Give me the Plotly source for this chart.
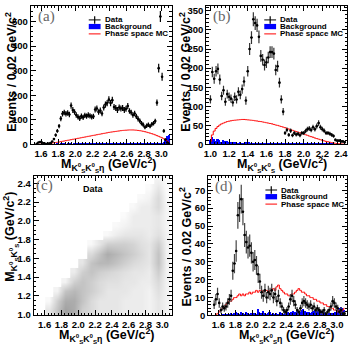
import numpy as np
import plotly.graph_objects as go

FONT = "Liberation Sans"
W, H = 354, 346
BW = 0.02  # bin width (GeV/c^2)
N = None  # outside the kinematic boundary (no events)

# ---------------- Panel (a): M(KsKs eta), bins of 0.02 starting at 1.55 ----------------
a_start = 1.55
a_data = [3, 8, 10, 8, 5, 3, 2, 4, 6, 12,
          22, 38, 55, 75, 105, 125, 130, 125, 128, 122,
          158, 140, 132, 120, 112, 106, 115, 110, 118, 115,
          120, 116, 112, 114, 142, 146, 132, 138, 126, 150,
          162, 168, 182, 168, 180, 152, 148, 140, 150, 146,
          148, 140, 145, 156, 136, 130, 120, 126, 114, 104,
          96, 86, 80, 70, 76, 80, 74, 82, 86, 95,
          170, 310, 520, 275, 55, 20, 8, 3]
a_bkg = [0, 0.5, 1, 0.5, 1, 0.5, 1, 1.5, 1, 2,
         1.5, 2, 2.5, 2, 3, 2.5, 3, 2, 3, 2.5,
         3, 2, 3, 3.5, 3, 2.5, 3, 3.5, 3, 4,
         3, 3.5, 4, 3, 4.5, 4, 5, 4, 5, 4.5,
         5, 6, 5, 5.5, 6, 5, 6, 7, 6, 5.5,
         6, 5, 6, 5.5, 5, 6, 5, 4.5, 5, 4,
         5, 4.5, 4, 5, 4, 4.5, 5, 5.5, 6, 6,
         6, 6, 7, 8, 12, 22, 35, 40]
a_mc = [0, 0.5, 1, 1.5, 2, 2.5, 3, 4, 5, 6,
        7, 8, 9, 10, 11.5, 13, 14, 15.5, 17, 18,
        19.5, 21, 22, 23.5, 25, 26, 27.5, 29, 30, 31.5,
        33, 34, 35.5, 37, 38, 39.5, 41, 42, 43.5, 45,
        46, 47.5, 49, 50, 51, 52, 53, 54, 55, 56,
        57, 57.5, 58, 58.5, 59, 59, 59, 58.5, 58, 57,
        56, 55, 53.5, 52, 50, 48, 46, 44, 41.5, 39,
        36, 33, 30, 27, 23, 18, 14, 9]

# ---------------- Panel (b): M(KsKs), bins of 0.02 starting at 1.00 ----------------
b_start = 1.00
b_data = [118, 190, 172, 192, 198, 170, 127, 142, 112, 132,
          125, 120, 110, 125, 118, 138, 130, 145, 165, 115,
          192, 250, 280, 328, 318, 312, 282, 232, 222, 208,
          215, 228, 242, 242, 238, 195, 205, 162, 118, 86,
          30, 38, 25, 36, 24, 30, 26, 28, 24, 30,
          30, 35, 40, 42, 38, 45, 40, 48, 56, 45,
          40, 36, 30, 30, 28, 25, 22, 12, 10, 10,
          8, 8, 6]
b_bkg = [12, 20, 14, 10, 15, 12, 8, 12, 10, 9,
         8, 7, 6, 8, 6, 5, 6, 5, 4, 7,
         5, 6, 4, 5, 4, 5, 4, 4, 5, 4,
         4, 5, 4, 3, 4, 5, 4, 3, 4, 3,
         4, 3, 3, 4, 3, 3, 4, 3, 3, 3,
         4, 3, 3, 2, 3, 3, 2, 3, 3, 2,
         3, 2, 2, 3, 2, 2, 2, 1, 2, 1,
         1, 1, 0.5]
b_mc = [8, 25, 35, 42, 47, 51, 54, 56, 58, 60,
        61, 62, 63, 63.5, 64, 64.5, 65, 65.5, 65.5, 65,
        64.5, 64, 63.5, 63, 62, 61.5, 60.5, 60, 59, 58,
        57, 56, 55, 54, 52.5, 51, 50, 48.5, 47, 45.5,
        44, 42, 40.5, 39, 37, 35.5, 34, 32, 30.5, 29,
        27, 25.5, 24, 22, 20.5, 19, 17, 15.5, 14, 12.5,
        11, 9.5, 8, 7, 6, 5, 4, 3, 2.5, 2,
        1.5, 1, 0.5]

# ---------------- Panel (c): event density M(KsKs) vs M(KsKs eta) ----------------
c_x = [1.55, 1.65, 1.75, 1.85, 1.95, 2.05, 2.15, 2.25, 2.35, 2.45, 2.55, 2.65, 2.75, 2.85, 2.95, 3.05]
c_y = [1.05, 1.15, 1.25, 1.35, 1.45, 1.55, 1.65, 1.75, 1.85, 1.95, 2.05, 2.15, 2.25, 2.35, 2.45]
c_z = [
    [N, 2, 5, 8, 7, 4, 3, 2, 2, 2, 1.5, 1.5, 1.5, 1, 2, 1],
    [N, 0.5, 4, 7, 7, 5, 3, 2, 2, 2, 1.5, 1.5, 1.5, 1, 2, 1],
    [N, N, 1, 5, 6, 5, 4, 3, 2, 2, 2, 1.5, 1.5, 1, 2.5, 1],
    [N, N, N, 1, 4, 5, 4, 3, 2.5, 2.5, 2, 2, 1.5, 1.5, 3, 1],
    [N, N, N, N, 1.5, 4, 5, 4, 3.5, 3, 2.5, 2, 2, 1.5, 4, 1],
    [N, N, N, N, N, 2, 5, 6, 6, 5, 4, 3, 2.5, 2, 5, 1],
    [N, N, N, N, N, N, 3, 5, 7, 6, 5, 4, 3, 2, 5, 1],
    [N, N, N, N, N, N, 0.5, 2, 4, 4, 4, 3.5, 2.5, 2, 4, 1],
    [N, N, N, N, N, N, N, N, 0.5, 1.5, 2, 2, 2, 1.5, 2.5, 1],
    [N, N, N, N, N, N, N, N, N, 0.5, 1, 1.5, 1.5, 1.5, 2, 0.8],
    [N, N, N, N, N, N, N, N, N, N, 0.3, 1.5, 1.5, 1.5, 2, 0.8],
    [N, N, N, N, N, N, N, N, N, N, N, 0.5, 1.5, 1.5, 3, 0.8],
    [N, N, N, N, N, N, N, N, N, N, N, N, 0.5, 1, 3, 0.5],
    [N, N, N, N, N, N, N, N, N, N, N, N, N, 0.3, 2, 0.3],
    [N, N, N, N, N, N, N, N, N, N, N, N, N, N, 1, 0.3],
]

# ---------------- Panel (d): M(KsKs eta), bins of 0.02 from 1.55 ----------------
d_start = 1.55
d_data = [6, 9, 12, 7, 3, 5, 4, 5, 7, 9,
          11, 25, 29, 36, 56, 60, 65, 58, 45, 41,
          38, 39, 35, 30, 31, 28, 23, 19, 13, 11,
          14, 10, 13, 12, 14, 10, 12, 8, 11, 7,
          5, 3, 2, 3, 5, 9, 11, 8, 6, 3,
          2, 4, 7, 8, 7, 6, 5, 6, 4, 5,
          3, 4, 3, 2, 2, 3, 1, 2, 3, 5,
          8, 7, 5, 4, 2, 3, 1, 1]
d_bkg = [0, 0, 0, 0.5, 0, 0.5, 0.5, 1, 0.5, 1,
         1.5, 1, 1.5, 2, 1.5, 1, 2, 1.5, 1, 2,
         1.5, 1, 1.5, 1, 1.5, 1, 3.5, 2, 1.5, 2.5,
         1.5, 1, 1.5, 2, 1, 1.5, 1, 1.5, 1, 2,
         1.5, 1, 1.5, 2, 2, 1.5, 2, 2.5, 2, 3,
         2.5, 2, 3, 3.5, 2.5, 2, 2, 1.5, 2, 2.5,
         3, 2.5, 3, 3, 2.5, 2, 1.5, 1, 1.5, 1,
         1.5, 1, 2, 3, 4, 5, 4, 3]
d_mc = [0, 0, 1, 2, 3, 4, 5, 6, 7, 8,
        8, 9, 10, 10, 11, 12, 11, 12, 11, 12,
        12, 13, 12, 13, 13, 14, 13, 14, 14, 13,
        14, 14, 13, 14, 14, 15, 14, 16, 17, 15,
        14, 13, 12, 12, 11, 11, 12, 12, 13, 14,
        15, 14, 13, 13, 12, 11, 11, 10, 10, 9,
        9, 8, 8, 7, 7, 6, 6, 5, 5, 4,
        4, 3, 3, 2, 3, 2, 3, 4]

# ---------------- layout geometry (pixels) ----------------
frames = {  # left, right, top, bottom
    "": (29, 171, 5, 146),
    "2": (206, 348, 5, 146),
    "3": (32, 171, 178, 320),
    "4": (208, 348, 178, 320),
}

fig = go.Figure()


def centers(start, vals):
    return np.round(start + BW * np.arange(len(vals)), 3)


def hist_panel(n, start, data, bkg, mc, err_col):
    xa, ya = "x" + n, "y" + n
    fig.add_trace(go.Bar(x=centers(start, bkg), y=bkg, width=BW, marker=dict(color="#0000ff", line=dict(width=0)),
                         xaxis=xa, yaxis=ya, showlegend=False, hoverinfo="skip"))
    fig.add_trace(go.Scatter(x=centers(start, mc), y=mc, mode="lines",
                             line=dict(color="#ff0000", width=1, shape="hvh"),
                             xaxis=xa, yaxis=ya, showlegend=False, hoverinfo="skip"))
    fig.add_trace(go.Scatter(x=centers(start, data), y=data, mode="markers",
                             marker=dict(color="black", size=2.6),
                             error_y=dict(type="data", array=np.sqrt(np.array(data, float)), color=err_col,
                                          thickness=1.2, width=0),
                             error_x=dict(type="constant", value=BW / 2, color="black", thickness=1, width=0),
                             xaxis=xa, yaxis=ya, showlegend=False))


hist_panel("", a_start, a_data, a_bkg, a_mc, "black")
hist_panel("2", b_start, b_data, b_bkg, b_mc, "#333333")
hist_panel("4", d_start, d_data, d_bkg, d_mc, "#444444")

fig.add_trace(go.Heatmap(x=c_x, y=c_y, z=c_z, zmin=0, zmax=10, zsmooth="best",
                         colorscale=[[0, "#ffffff"], [0.2, "#e6e6e6"], [1, "#8a8a8a"]],
                         showscale=False, xaxis="x3", yaxis="y3", hoverinfo="skip"))

tickfont = dict(family=FONT, size=9.5, color="black", weight="bold")


def axis(n, rng, dtick, tick0, minor_dtick, fmt=None, is_x=True):
    l, r, t, b = frames[n]
    d = dict(range=rng, dtick=dtick, tick0=tick0, showline=True, linecolor="black", linewidth=1,
             mirror="allticks", ticks="inside", ticklen=5, tickwidth=1, tickcolor="black",
             showgrid=False, zeroline=False, tickfont=tickfont,
             minor=dict(dtick=minor_dtick, ticks="inside", ticklen=2.5, tickwidth=1,
                        tickcolor="black", showgrid=False))
    if fmt:
        d["tickformat"] = fmt
    if is_x:
        d["domain"] = [l / W, r / W]
        d["anchor"] = "y" + n
    else:
        d["domain"] = [1 - b / H, 1 - t / H]
        d["anchor"] = "x" + n
    return d


layout_axes = {
    "xaxis": axis("", [1.48, 3.12], 0.2, 1.6, 0.04, ".1f"),
    "yaxis": axis("", [0, 563], 100, 0, 20, None, False),
    "xaxis2": axis("2", [0.955, 2.465], 0.2, 1.0, 0.04, ".1f"),
    "yaxis2": axis("2", [0, 363], 50, 0, 10, None, False),
    "xaxis3": axis("3", [1.47, 3.11], 0.2, 1.6, 0.04, ".1f"),
    "yaxis3": axis("3", [0.99, 2.48], 0.2, 1.0, 0.05, ".1f", False),
    "xaxis4": axis("4", [1.48, 3.12], 0.2, 1.6, 0.04, ".1f"),
    "yaxis4": axis("4", [0, 78], 10, 0, 2, None, False),
}

ann = []
shapes = []

# axis titles
ytitle = "Events / 0.02 GeV/c<sup>2</sup>"
xt_kke = "M<sub>K<sup>0</sup><sub>S</sub>K<sup>0</sup><sub>S</sub>η</sub> (GeV/c<sup>2</sup>)"
xt_kk = "M<sub>K<sup>0</sup><sub>S</sub>K<sup>0</sup><sub>S</sub></sub> (GeV/c<sup>2</sup>)"
tfont = dict(family=FONT, size=12.5, color="black", weight="bold")
for txt, cx, cy, ang in [
    (ytitle, 9, 72, -90), (ytitle, 184.5, 72, -90),
    (xt_kk, 9, 240, -90), (ytitle, 184.5, 250, -90),
    (xt_kke, 108, 166, 0), (xt_kk, 282, 166, 0),
    (xt_kke, 106, 340, 0), (xt_kke, 287, 340, 0),
]:
    ann.append(dict(text=txt, x=cx / W, y=1 - cy / H, xref="paper", yref="paper",
                    xanchor="center", yanchor="middle", textangle=ang, showarrow=False, font=tfont))

# panel labels
for n, lab, fx, fy in [("", "(a)", 0.115, 0.92), ("2", "(b)", 0.115, 0.92),
                       ("3", "(c)", 0.081, 0.93), ("4", "(d)", 0.114, 0.922)]:
    ann.append(dict(text=lab, x=fx, y=fy, xref=f"x{n} domain", yref=f"y{n} domain",
                    xanchor="center", yanchor="middle", showarrow=False,
                    font=dict(family="Liberation Serif", size=15, color="#666666")))

ann.append(dict(text="Data", x=0.435, y=0.905, xref="x3 domain", yref="y3 domain",
                xanchor="center", yanchor="middle", showarrow=False,
                font=dict(family=FONT, size=9, color="black", weight="bold")))

# legends
lfont = dict(family=FONT, size=8, color="black", weight="bold")
rows = [0.899, 0.851, 0.798]
for n in ["", "2", "4"]:
    xr, yr = f"x{n} domain", f"y{n} domain"
    x0, x1, xt = 0.412, 0.496, 0.512
    xc = (x0 + x1) / 2
    shapes.append(dict(type="line", xref=xr, yref=yr, x0=x0, x1=x1, y0=rows[0], y1=rows[0],
                       line=dict(color="black", width=1)))
    shapes.append(dict(type="line", xref=xr, yref=yr, x0=xc, x1=xc, y0=rows[0] - 0.027, y1=rows[0] + 0.027,
                       line=dict(color="black", width=1.2)))
    shapes.append(dict(type="rect", xref=xr, yref=yr, x0=x0, x1=x1, y0=rows[1] - 0.019, y1=rows[1] + 0.019,
                       fillcolor="#0000ff", line=dict(width=0)))
    shapes.append(dict(type="line", xref=xr, yref=yr, x0=x0, x1=x1, y0=rows[2], y1=rows[2],
                       line=dict(color="#ff0000", width=1)))
    for txt, yy in zip(["Data", "Background", "Phase space MC"], rows):
        ann.append(dict(text=txt, x=xt, y=yy, xref=xr, yref=yr, xanchor="left", yanchor="middle",
                        showarrow=False, font=lfont))

fig.update_layout(
    width=W, height=H, margin=dict(l=0, r=0, t=0, b=0),
    paper_bgcolor="white", plot_bgcolor="white",
    bargap=0, showlegend=False,
    annotations=ann, shapes=shapes,
    **layout_axes,
)

fig.write_html("out.html")
